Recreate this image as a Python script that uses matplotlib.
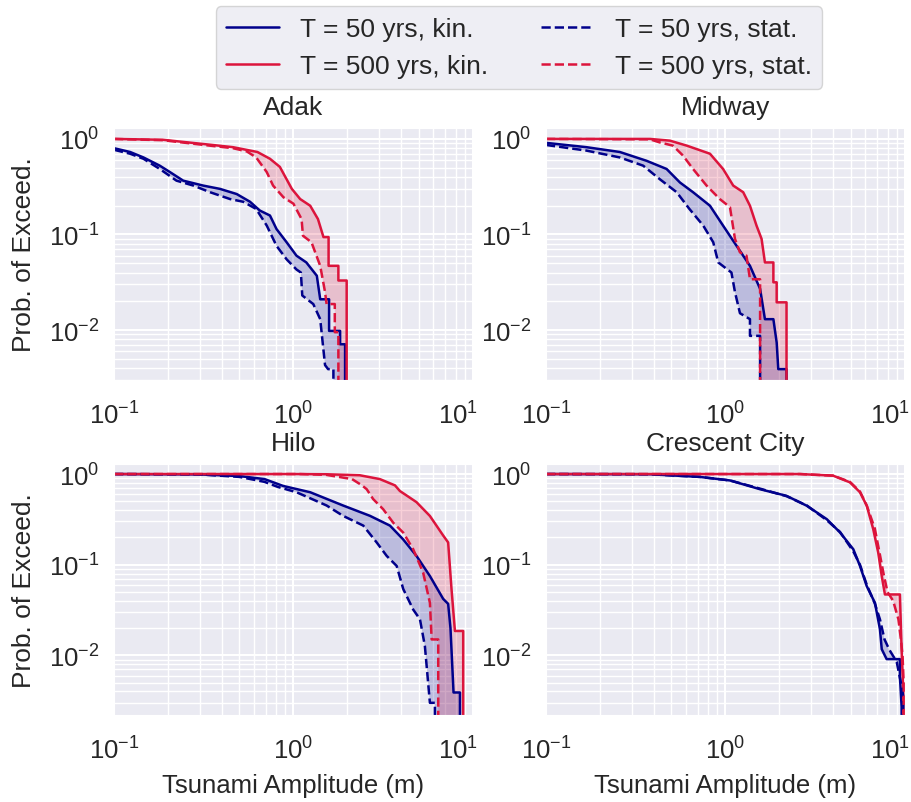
import numpy as np
import matplotlib
matplotlib.use("Agg")
import matplotlib.pyplot as plt
from matplotlib.transforms import ScaledTranslation
import seaborn as sns

# exceedance curves: amplitude (m) / probability
adak_kin50_a = [0.10, 0.123, 0.146, 0.18, 0.205, 0.243, 0.314, 0.39, 0.483, 0.573, 0.65, 0.74, 0.805, 0.916, 1.04, 1.18, 1.35, 1.41, 1.58, 1.58, 1.82, 1.82, 1.94, 1.94]
adak_kin50_p = [0.80, 0.73, 0.64, 0.525, 0.45, 0.366, 0.325, 0.30, 0.265, 0.22, 0.178, 0.158, 0.114, 0.083, 0.06, 0.051, 0.037, 0.021, 0.021, 0.0098, 0.0098, 0.0071, 0.0071, 1e-4]
adak_stat50_a = [0.10, 0.123, 0.146, 0.18, 0.223, 0.277, 0.343, 0.443, 0.525, 0.62, 0.71, 0.805, 0.916, 1.04, 1.10, 1.12, 1.29, 1.41, 1.50, 1.56, 1.67, 1.67]
adak_stat50_p = [0.77, 0.70, 0.62, 0.485, 0.366, 0.325, 0.277, 0.235, 0.22, 0.185, 0.124, 0.076, 0.055, 0.043, 0.040, 0.023, 0.0187, 0.013, 0.0043, 0.0039, 0.0039, 1e-4]
adak_kin500_a = [0.10, 0.187, 0.343, 0.46, 0.63, 0.74, 0.84, 0.98, 1.09, 1.24, 1.37, 1.47, 1.57, 1.57, 1.78, 1.78, 1.98, 1.98]
adak_kin500_p = [1.0, 0.98, 0.87, 0.82, 0.73, 0.62, 0.51, 0.30, 0.235, 0.20, 0.145, 0.094, 0.094, 0.047, 0.047, 0.033, 0.033, 1e-4]
adak_stat500_a = [0.10, 0.187, 0.343, 0.46, 0.55, 0.62, 0.71, 0.77, 0.88, 1.0, 1.11, 1.13, 1.26, 1.41, 1.50, 1.53, 1.70, 1.70, 1.78, 1.78]
adak_stat500_p = [1.0, 0.97, 0.85, 0.80, 0.74, 0.64, 0.45, 0.325, 0.245, 0.21, 0.145, 0.097, 0.083, 0.047, 0.025, 0.0187, 0.0187, 0.0095, 0.0095, 1e-4]

midway_kin50_a = [0.10, 0.168, 0.258, 0.364, 0.47, 0.558, 0.66, 0.82, 0.97, 1.154, 1.37, 1.56, 1.66, 1.85, 1.93, 1.97, 2.19, 2.19]
midway_kin50_p = [0.91, 0.82, 0.73, 0.59, 0.485, 0.35, 0.277, 0.20, 0.124, 0.076, 0.047, 0.027, 0.013, 0.013, 0.0074, 0.0039, 0.0039, 1e-4]
midway_stat50_a = [0.10, 0.168, 0.258, 0.348, 0.43, 0.535, 0.63, 0.752, 0.855, 0.912, 1.08, 1.13, 1.205, 1.37, 1.37, 1.56, 1.56]
midway_stat50_p = [0.865, 0.755, 0.64, 0.525, 0.38, 0.277, 0.185, 0.124, 0.083, 0.051, 0.040, 0.025, 0.015, 0.013, 0.0087, 0.0087, 1e-4]
midway_kin500_a = [0.10, 0.38, 0.49, 0.61, 0.82, 0.97, 1.105, 1.256, 1.37, 1.49, 1.59, 1.66, 1.85, 1.85, 1.93, 1.93, 2.19, 2.19]
midway_kin500_p = [1.0, 1.0, 0.96, 0.85, 0.70, 0.485, 0.325, 0.277, 0.20, 0.124, 0.09, 0.051, 0.051, 0.0316, 0.0316, 0.0195, 0.0195, 1e-4]
midway_stat500_a = [0.10, 0.38, 0.43, 0.51, 0.58, 0.66, 0.785, 0.93, 1.06, 1.13, 1.205, 1.31, 1.37, 1.56, 1.56]
midway_stat500_p = [1.0, 0.99, 0.92, 0.85, 0.67, 0.485, 0.325, 0.235, 0.193, 0.09, 0.065, 0.060, 0.034, 0.034, 1e-4]

hilo_kin50_a = [0.10, 0.30, 0.50, 0.69, 0.875, 1.24, 1.89, 2.67, 3.45, 4.09, 4.85, 5.76, 6.83, 7.28, 7.5, 7.8, 8.47, 8.47]
hilo_kin50_p = [1.0, 0.99, 0.95, 0.88, 0.74, 0.63, 0.45, 0.346, 0.27, 0.19, 0.125, 0.075, 0.042, 0.037, 0.02, 0.0039, 0.0039, 1e-4]
hilo_stat50_a = [0.10, 0.30, 0.50, 0.69, 0.82, 1.04, 1.53, 1.89, 2.45, 2.91, 3.31, 3.76, 4.09, 4.65, 5.07, 5.40, 5.76, 6.14, 6.14]
hilo_stat50_p = [1.0, 0.99, 0.93, 0.82, 0.72, 0.63, 0.45, 0.346, 0.27, 0.176, 0.125, 0.097, 0.054, 0.032, 0.025, 0.0127, 0.003, 0.003, 1e-4]
hilo_kin500_a = [0.10, 1.0, 1.52, 2.34, 3.03, 3.68, 3.92, 4.85, 5.76, 6.83, 7.28, 7.6, 7.94, 8.83, 8.83]
hilo_kin500_p = [1.0, 1.0, 0.995, 0.97, 0.88, 0.75, 0.65, 0.49, 0.345, 0.21, 0.176, 0.054, 0.0186, 0.0186, 1e-4]
hilo_stat500_a = [0.10, 1.09, 1.52, 2.12, 2.41, 2.56, 2.78, 3.16, 3.60, 4.09, 4.65, 5.28, 5.76, 5.89, 6.41, 6.41]
hilo_stat500_p = [1.0, 1.0, 0.98, 0.88, 0.75, 0.68, 0.53, 0.41, 0.29, 0.226, 0.148, 0.082, 0.038, 0.015, 0.015, 1e-4]

cc_kin50_a = [0.10, 0.38, 0.72, 1.06, 1.56, 2.19, 2.84, 3.67, 4.35, 5.16, 5.62, 6.13, 6.81, 7.26, 7.43, 7.91, 9.38, 9.38, 9.59, 9.59]
cc_kin50_p = [1.0, 0.995, 0.93, 0.85, 0.68, 0.575, 0.447, 0.318, 0.227, 0.148, 0.097, 0.058, 0.038, 0.0194, 0.0117, 0.0091, 0.0091, 0.0059, 0.0027, 1e-4]
cc_stat50_a = [0.10, 0.38, 0.72, 1.06, 1.56, 2.19, 2.84, 3.67, 4.35, 5.16, 5.62, 6.13, 6.81, 7.26, 7.7, 8.2, 9.0, 9.5, 9.8, 9.8]
cc_stat50_p = [1.0, 0.995, 0.93, 0.85, 0.69, 0.57, 0.45, 0.31, 0.23, 0.14, 0.10, 0.06, 0.037, 0.025, 0.015, 0.0115, 0.0085, 0.005, 0.0035, 1e-4]
cc_kin500_a = [0.10, 2.6, 3.98, 4.94, 5.62, 6.13, 6.66, 7.1, 7.43, 7.74, 9.38, 9.6, 9.8, 9.8]
cc_kin500_p = [1.0, 1.0, 0.96, 0.81, 0.63, 0.447, 0.247, 0.136, 0.075, 0.047, 0.047, 0.0107, 0.004, 1e-4]
cc_stat500_a = [0.10, 2.6, 3.98, 4.94, 5.62, 6.13, 6.8, 7.2, 7.6, 8.0, 8.6, 9.2, 9.5, 9.7, 9.85, 9.85]
cc_stat500_p = [1.0, 1.0, 0.96, 0.82, 0.64, 0.45, 0.25, 0.14, 0.08, 0.05, 0.04, 0.025, 0.015, 0.01, 0.005, 1e-4]

stations = ["Adak", "Midway", "Hilo", "Crescent City"]
curves = [
    (adak_kin50_a, adak_kin50_p, adak_stat50_a, adak_stat50_p, adak_kin500_a, adak_kin500_p, adak_stat500_a, adak_stat500_p),
    (midway_kin50_a, midway_kin50_p, midway_stat50_a, midway_stat50_p, midway_kin500_a, midway_kin500_p, midway_stat500_a, midway_stat500_p),
    (hilo_kin50_a, hilo_kin50_p, hilo_stat50_a, hilo_stat50_p, hilo_kin500_a, hilo_kin500_p, hilo_stat500_a, hilo_stat500_p),
    (cc_kin50_a, cc_kin50_p, cc_stat50_a, cc_stat50_p, cc_kin500_a, cc_kin500_p, cc_stat500_a, cc_stat500_p),
]
ylims = [(0.0030, 1.30), (0.0030, 1.30), (0.0022, 1.29), (0.0022, 1.29)]
xticks = [0.1, 1, 10]
xticklabels = [r"$\mathdefault{10^{-1}}$", r"$\mathdefault{10^{0}}$", r"$\mathdefault{10^{1}}$"]

sns.set_style("darkgrid")
plt.rcParams["font.family"] = ["Liberation Sans", "DejaVu Sans"]

blue = "darkblue"
red = "crimson"

fig = plt.figure(figsize=(9.11, 8.03), dpi=100)
positions = [
    [0.1251, 0.5255, 0.394, 0.3138],
    [0.5993, 0.5255, 0.394, 0.3138],
    [0.1251, 0.1083, 0.394, 0.3126],
    [0.5993, 0.1083, 0.394, 0.3126],
]

for i, name in enumerate(stations):
    ax = fig.add_axes(positions[i])
    k50a, k50p, s50a, s50p, k500a, k500p, s500a, s500p = curves[i]

    # shaded band between kinematic and static curves
    ax.fill(np.concatenate([k50a, s50a[::-1]]), np.concatenate([k50p, s50p[::-1]]),
            color=blue, alpha=0.2, lw=0)
    ax.fill(np.concatenate([k500a, s500a[::-1]]), np.concatenate([k500p, s500p[::-1]]),
            color=red, alpha=0.2, lw=0)

    ax.plot(k50a, k50p, color=blue, lw=1.8, label="T = 50 yrs, kin.")
    ax.plot(k500a, k500p, color=red, lw=1.8, label="T = 500 yrs, kin.")
    ax.plot(s50a, s50p, color=blue, lw=1.8, ls="--", label="T = 50 yrs, stat.")
    ax.plot(s500a, s500p, color=red, lw=1.8, ls="--", label="T = 500 yrs, stat.")

    ax.set_xscale("log")
    ax.set_yscale("log")
    ax.set_xlim(0.1, 10)
    ax.set_ylim(*ylims[i])
    ax.grid(which="major", color="white", lw=1.5)
    ax.grid(which="minor", color="white", lw=1.0)
    ax.tick_params(axis="x", labelsize=18.5, pad=12)
    ax.tick_params(axis="y", labelsize=18.5, pad=7)
    ax.set_xticks(xticks, labels=xticklabels)
    # last x label sits inside the right edge, as in the original
    last = ax.get_xticklabels()[-1]
    last.set_ha("right")
    last.set_transform(last.get_transform() + ScaledTranslation(0.05, 0, fig.dpi_scale_trans))
    ax.set_title(name, fontsize=19, pad=10)
    if i % 2 == 0:
        ax.set_ylabel("Prob. of Exceed.", fontsize=19, labelpad=9)
    if i >= 2:
        ax.set_xlabel("Tsunami Amplitude (m)", fontsize=18.5, labelpad=7)
    if i == 0:
        handles, labels = ax.get_legend_handles_labels()

fig.legend(handles, labels, loc="upper center", bbox_to_anchor=(0.5697, 0.991),
           ncol=2, fontsize=19, borderaxespad=0)

fig.savefig("out.png", dpi=100)
